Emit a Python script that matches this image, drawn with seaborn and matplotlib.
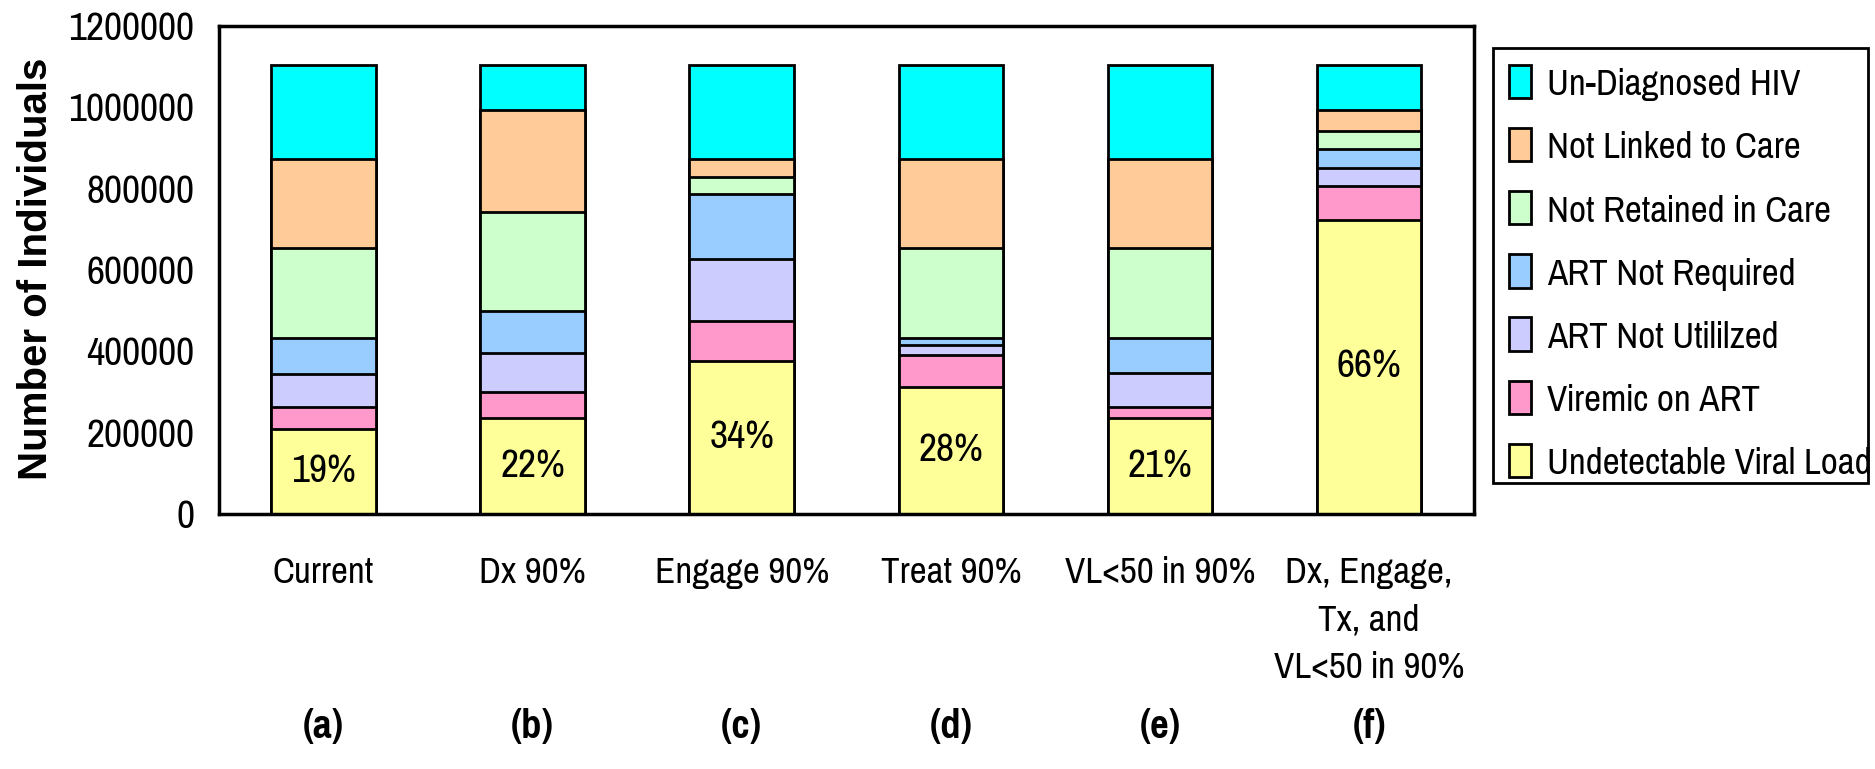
import numpy as np
import pandas as pd
import seaborn as sns
import matplotlib.pyplot as plt
from matplotlib.patches import Rectangle

# scenarios and panel letters
scenarios = ['Current', 'Dx 90%', 'Engage 90%', 'Treat 90%', 'VL<50 in 90%',
             'Dx, Engage,\nTx, and\nVL<50 in 90%']
panels = ['(a)', '(b)', '(c)', '(d)', '(e)', '(f)']

# segment sizes, bottom to top
undetectable = [210000, 235000, 377000, 313000, 235000, 723000]
viremic = [52000, 65000, 97000, 77000, 28000, 84000]
not_utilized = [83000, 97000, 154000, 25000, 84000, 45000]
not_required = [89000, 103000, 160000, 19000, 87000, 46000]
not_retained = [219000, 243000, 40000, 219000, 220000, 45000]
not_linked = [219000, 251000, 45000, 219000, 219000, 50000]
undiagnosed = [233000, 111000, 232000, 233000, 232000, 112000]

pct_labels = ['19%', '22%', '34%', '28%', '21%', '66%']

series_names = ['Undetectable Viral Load', 'Viremic on ART', 'ART Not Utililzed',
                'ART Not Required', 'Not Retained in Care', 'Not Linked to Care',
                'Un-Diagnosed HIV']
series_colors = ['#FFFF99', '#FF99CC', '#CCCCFF', '#99CCFF', '#CCFFCC', '#FFCC99', '#00FFFF']

yticks = [0, 200000, 400000, 600000, 800000, 1000000, 1200000]

df = pd.DataFrame({'scenario': scenarios})
for name, vals in zip(series_names, [undetectable, viremic, not_utilized, not_required,
                                     not_retained, not_linked, undiagnosed]):
    df[name] = vals
df_cum = df[series_names].cumsum(axis=1)  # tops of each segment
for name in series_names:
    df['top_' + name] = df_cum[name]

sns.set_style('white')
narrow = ['Pragati Narrow', 'Roboto Condensed', 'Archivo Narrow', 'Liberation Sans', 'DejaVu Sans']
plt.rcParams['font.family'] = narrow
plt.rcParams['text.color'] = 'black'
plt.rcParams['xtick.color'] = 'black'
plt.rcParams['ytick.color'] = 'black'

fig = plt.figure(figsize=(18.75, 7.69), dpi=100)
ax = fig.add_axes([0.1168, 0.3316, 0.6691, 0.6346])

# draw tallest first so the lower segments sit on top
for name, col in zip(reversed(series_names), reversed(series_colors)):
    sns.barplot(data=df, x='scenario', y='top_' + name, color=col, saturation=1,
                width=0.5, edgecolor='black', linewidth=2, errorbar=None,
                label=name, ax=ax)

if ax.get_legend() is not None:
    ax.get_legend().remove()

for i, txt in enumerate(pct_labels):
    ax.text(i, undetectable[i] / 2, txt, ha='center', va='center', fontsize=31)

ax.set_xlim(-0.5, 5.5)
ax.set_ylim(0, 1200000)
ax.set_yticks(yticks, labels=[str(v) for v in yticks], fontsize=31)
ax.set_xticks(np.arange(-0.5, 6, 1), labels=[])
ax.set_xticks(range(6), labels=scenarios, minor=True)
ax.tick_params(axis='x', which='minor', length=0, pad=30, labelsize=29)
ax.tick_params(axis='x', which='major', length=12, width=2, direction='out')
ax.tick_params(axis='y', length=8, width=2, direction='out', pad=10)
for t in ax.get_xticklabels(minor=True):
    t.set_linespacing(1.55)
ax.set_xlabel('')
ax.set_ylabel('')

for sp in ax.spines.values():
    sp.set_visible(True)
    sp.set_color('black')
    sp.set_linewidth(2.5)

for i, p in enumerate(panels):
    ax.text(i, -0.436, p, transform=ax.get_xaxis_transform(), ha='center',
            va='center', fontsize=32, fontweight='bold')

fig.text(0.019, 0.65, 'Number of Individuals', rotation=90, ha='center', va='center',
         fontsize=29, fontweight='bold', family=['Liberation Sans', 'DejaVu Sans'])

# legend box drawn by hand (Excel leaves more room above than below)
fig.patches.append(Rectangle((0.7963, 0.3719), 0.2, 0.5657, transform=fig.transFigure,
                             fill=False, edgecolor='black', linewidth=2))
handles, labels = ax.get_legend_handles_labels()
leg = fig.legend(handles, labels, loc='upper left', bbox_to_anchor=(0.7963, 0.937),
                 borderaxespad=0, fontsize=29, frameon=False,
                 handlelength=0.55, handleheight=0.9,
                 handletextpad=0.4, labelspacing=0.66, borderpad=0.4)

plt.savefig('out.png', dpi=100)
